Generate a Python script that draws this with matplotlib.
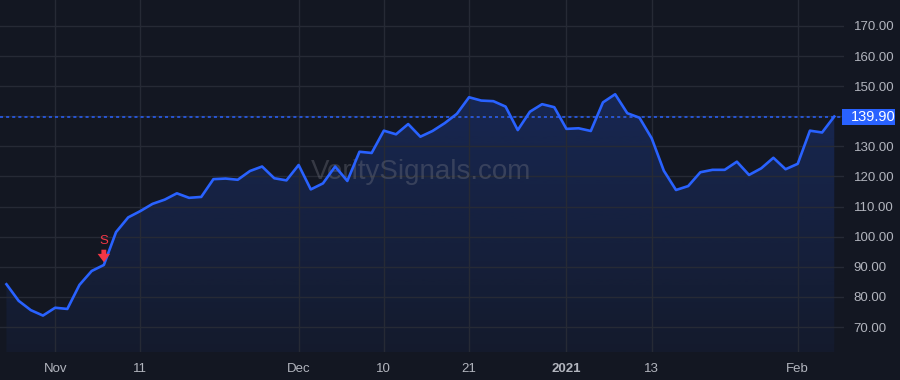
import numpy as np
import pandas as pd
import matplotlib
matplotlib.use('Agg')
import matplotlib.pyplot as plt
from matplotlib.patches import Rectangle
from matplotlib.transforms import blended_transform_factory

# Trading days shown on the chart (US market holidays removed)
holidays = ['2020-11-26', '2020-12-25', '2021-01-01', '2021-01-18']
dates = pd.bdate_range('2020-10-27', '2021-02-04', freq='C', holidays=holidays)

# Close prices
closes = [84.2, 78.7, 75.6, 73.8,
          76.4, 76.0, 84.0, 88.6, 90.6, 101.5, 106.4, 108.5, 110.9, 112.3,
          114.4, 112.9, 113.2, 119.1, 119.3, 118.9, 121.8, 123.3, 119.4, 118.7,
          123.8, 115.7, 117.7, 123.3, 118.5, 128.2, 127.8, 135.2, 134.0, 137.4,
          133.2, 135.1, 137.7, 140.8, 146.3, 145.2, 145.0, 143.2, 135.4, 141.5,
          144.0, 143.0,
          135.8, 136.0, 135.1, 144.6, 147.3, 141.0, 139.5, 132.7, 121.9, 115.5,
          116.8, 121.4, 122.2, 122.2, 124.9, 120.5, 122.7, 126.2, 122.4,
          124.2, 135.2, 134.6, 139.9]

last_price = 139.90
signal_date = '2020-11-06'
signal_label = 'S'

tick_dates = ['2020-11-02', '2020-11-11', '2020-12-01', '2020-12-10',
              '2020-12-21', '2021-01-04', '2021-01-13', '2021-02-01']
tick_labels = ['Nov', '11', 'Dec', '10', '21', '2021', '13', 'Feb']
price_ticks = [70, 80, 90, 100, 110, 120, 130, 140, 150, 160, 170]

bg = '#131722'
grid_c = '#262a35'
blue = '#2962ff'
text_c = '#b2b5be'
red = '#f23645'

plt.rcParams['font.family'] = ['Liberation Sans', 'DejaVu Sans']

x = np.arange(len(dates))
y = np.array(closes)
pos = {d.strftime('%Y-%m-%d'): i for i, d in enumerate(dates)}

fig = plt.figure(figsize=(9, 3.8), dpi=100, facecolor=bg)
ax = fig.add_axes([0, 28 / 380, 844 / 900, 352 / 380], facecolor=bg)

ymin, ymax = 61.7, 178.6
xmin, xmax = -0.53, 68.8
ax.set_xlim(xmin, xmax)
ax.set_ylim(ymin, ymax)

# gradient area under the line
poly = ax.fill_between(x, y, ymin, facecolor='none', edgecolor='none')
rgba = np.zeros((256, 1, 4))
rgba[..., 0] = 41 / 255
rgba[..., 1] = 98 / 255
rgba[..., 2] = 1.0
top_val = y.max()
yy = np.linspace(ymax, ymin, 256)
frac = np.clip((top_val - yy) / (top_val - ymin), 0, 1)
rgba[:, 0, 3] = 0.22 - 0.17 * frac
img = ax.imshow(rgba, extent=[xmin, xmax, ymin, ymax], aspect='auto',
                origin='upper', zorder=1)
for p in poly.get_paths():
    img.set_clip_path(p, transform=ax.transData)

ax.plot(x, y, color=blue, lw=1.9, zorder=3, solid_joinstyle='round')
ax.axhline(last_price, color=blue, lw=1.1, ls=(0, (2, 2)), zorder=2)

# grid
ax.set_yticks(price_ticks)
ax.set_yticklabels(['' if v == 140 else f'{v:.2f}' for v in price_ticks])
ax.set_xticks([pos[d] for d in tick_dates])
ax.set_xticklabels(tick_labels)
for lab in ax.get_xticklabels():
    if lab.get_text() == '2021':
        lab.set_fontweight('bold')
ax.grid(True, color=grid_c, lw=1, zorder=0)
ax.yaxis.tick_right()
ax.tick_params(axis='y', length=0, pad=7, labelsize=9.5, labelcolor=text_c)
ax.tick_params(axis='x', length=0, pad=8, labelsize=9.5, labelcolor=text_c)
for s in ax.spines.values():
    s.set_visible(False)

# watermark
ax.text(0.499, 0.511, 'VeritySignals.com', transform=ax.transAxes, ha='center',
        va='center', fontsize=20, color='#787b86', alpha=0.35, zorder=2)

# signal marker
si = pos[signal_date]
ax.annotate('', xy=(si, y[si]), xytext=(0, 11), textcoords='offset points',
            arrowprops=dict(arrowstyle='simple,head_width=0.9,head_length=0.6,tail_width=0.35',
                            color=red, lw=0, shrinkA=0, shrinkB=2), zorder=4)
ax.annotate(signal_label, xy=(si, y[si]), xytext=(0, 13), textcoords='offset points',
            ha='center', va='bottom', color=red, fontsize=9.5, zorder=4)

# last price label
tr = blended_transform_factory(fig.transFigure, ax.transData)
h = 16 / (352 / (ymax - ymin))
ax.add_patch(Rectangle((842 / 900, last_price - h / 2), 53 / 900, h,
                       transform=tr, facecolor=blue, edgecolor='none',
                       clip_on=False, zorder=5))
ax.text(851 / 900, last_price, f'{last_price:.2f}', transform=tr, ha='left',
        va='center', color='white', fontsize=10.5, zorder=6, clip_on=False)

fig.savefig('out.png', dpi=100, facecolor=bg)
